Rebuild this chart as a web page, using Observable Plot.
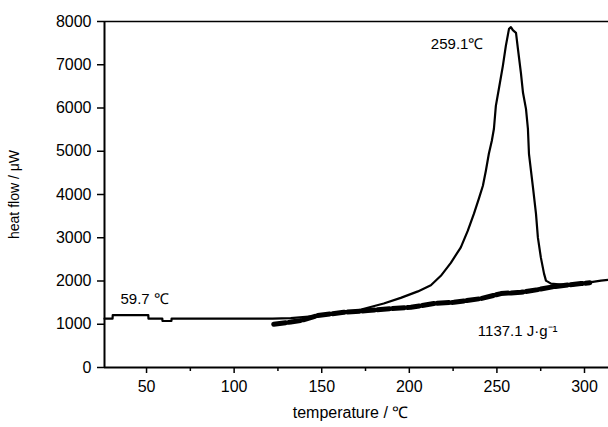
<!DOCTYPE html>
<html>
<head>
<meta charset="utf-8">
<script src="https://cdn.jsdelivr.net/npm/d3@7"></script>
<script src="https://cdn.jsdelivr.net/npm/@observablehq/plot@0.6"></script>
<style>
  html, body { margin: 0; padding: 0; background: #fff; }
</style>
</head>
<body>
<div id="chart"></div>
<script>
// DSC trace (temperature °C, heat flow µW)
const mainTemp = [26, 30.6, 30.7, 51.0, 51.1, 59.0, 59.1, 64.2, 64.3, 122, 132.3, 149.4, 166.6, 185.4, 195.1, 204.9, 212.3, 218, 223.7, 229.4, 233.4, 236.9, 239.7, 242, 243.7, 245.4, 247.1, 248.3, 249.4, 251.1, 253.4, 255.1, 256.9, 258, 259.1, 260.9, 262, 263.7, 264.9, 266.6, 267.7, 268.3, 270.6, 272.3, 273.4, 275.1, 276.9, 278, 280.9, 292.3, 302, 309.4, 314];
const mainFlow = [1130, 1130, 1210, 1210, 1130, 1130, 1075, 1075, 1130, 1130, 1140, 1200, 1277, 1480, 1610, 1760, 1900, 2120, 2420, 2779, 3164, 3556, 3903, 4203, 4550, 4942, 5242, 5520, 6050, 6440, 6975, 7436, 7830, 7870, 7800, 7737, 7367, 6813, 6351, 5980, 5520, 4942, 4157, 3556, 3002, 2540, 2170, 2009, 1940, 1894, 1963, 2009, 2030];

// integration baseline (thick jagged line)
const baseTemp = [122.6, 132.3, 138, 147.7, 162.6, 176.3, 189.4, 200.9, 214, 225.4, 240.9, 252.3, 263.7, 273.4, 282.6, 298, 303];
const baseFlow = [1000, 1050, 1085, 1200, 1277, 1316, 1362, 1393, 1478, 1508, 1593, 1709, 1739, 1801, 1870, 1940, 1960];

// axis ticks
const xTicks = [50, 100, 150, 200, 250, 300];
const xMinorTicks = [75, 125, 175, 225, 275];
const yTicks = [0, 1000, 2000, 3000, 4000, 5000, 6000, 7000, 8000];

// annotations
const notes = [
  {t: 212.3, v: 7480, text: "259.1℃"},
  {t: 35.1, v: 1590, text: "59.7 ℃"},
  {t: 239.1, v: 850, text: "1137.1 J·g⁻¹"}
];

const mainData = mainTemp.map((t, i) => ({t, v: mainFlow[i]}));
const baseData = baseTemp.map((t, i) => ({t, v: baseFlow[i]}));

const chart = Plot.plot({
  width: 608,
  height: 427,
  marginLeft: 104,
  marginRight: 0,
  marginTop: 21,
  marginBottom: 60,
  style: {fontFamily: "'Liberation Sans', Arial, sans-serif", fontSize: "16px", color: "#000", background: "#fff"},
  x: {domain: [26, 313.7]},
  y: {domain: [0, 8000]},
  marks: [
    Plot.axisY({ticks: yTicks, tickSize: 7, tickPadding: 6, tickFormat: d3.format("d"), label: null, strokeWidth: 1.5}),
    Plot.axisX({ticks: xTicks, tickSize: 6, tickPadding: 7, tickFormat: d3.format("d"), label: null, strokeWidth: 1.5}),
    Plot.axisX({ticks: xMinorTicks, tickSize: 4, tickFormat: () => "", label: null, strokeWidth: 1.5}),
    Plot.ruleY([0], {strokeWidth: 2}),
    Plot.ruleY([8000], {strokeWidth: 1.5}),
    Plot.ruleX([26], {strokeWidth: 2}),
    Plot.line(baseData, {x: "t", y: "v", stroke: "black", strokeWidth: 5, strokeDasharray: "12,3"}),
    Plot.line(mainData, {x: "t", y: "v", stroke: "black", strokeWidth: 2.2}),
    Plot.text(notes, {x: "t", y: "v", text: "text", textAnchor: "start", fontSize: 15, fill: "black"}),
    Plot.text(["heat flow / μW"], {frameAnchor: "left", textAnchor: "middle", dx: -90, rotate: -90, fontSize: 14, fill: "black"}),
    Plot.text(["temperature / ℃"], {frameAnchor: "bottom", dx: -6, dy: 50, fontSize: 16, fill: "black"})
  ]
});
document.getElementById("chart").appendChild(chart);
</script>
</body>
</html>
